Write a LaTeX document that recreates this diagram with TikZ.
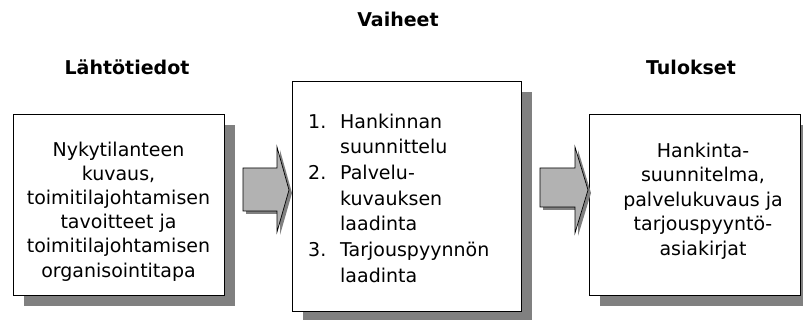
\documentclass[tikz,border=0pt]{standalone}
\usepackage{fontspec}
\setmainfont{DejaVu Sans}
\usetikzlibrary{shadows}
\definecolor{shadowgray}{HTML}{808080}
\definecolor{arrowgray}{HTML}{B2B2B2}
\begin{document}
\begin{tikzpicture}[x=1pt,y=-1pt,
  box/.style={draw=black, line width=0.8pt, fill=white, rectangle, inner sep=0pt,
    general shadow={fill=shadowgray, shadow xshift=11pt, shadow yshift=-11pt}},
  title/.style={font=\bfseries\fontsize{19}{23}\selectfont, anchor=base, inner sep=0pt},
  body/.style={inner sep=0pt, anchor=north},
  blockarrow/.style={draw=black, line width=0.7pt, fill=arrowgray, line join=miter,
    general shadow={fill=shadowgray, shadow xshift=3pt, shadow yshift=-3pt}}
]
\useasboundingbox (0,0) rectangle (803,320);

% headings
\node[title] (hsteps) at (398,27) {Vaiheet};
\node[title] (hin) at (127,75) {Lähtötiedot};
\node[title] (hout) at (691,75) {Tulokset};

% boxes with drop shadows
\node[box, minimum width=211pt, minimum height=181pt] (inbox) at (118.5,204.5) {};
\node[box, minimum width=229pt, minimum height=230pt] (stepbox) at (406.5,196) {};
\node[box, minimum width=211pt, minimum height=181pt] (outbox) at (694.5,204.5) {};

% block arrows between the boxes
\draw[blockarrow] (243,168) -- (277,168) -- (277,147) -- (289,190) -- (277,232)
  -- (277,211) -- (243,211) -- cycle;
\draw[blockarrow] (540,168) -- (575,168) -- (575,147) -- (588,190) -- (575,233)
  -- (575,207) -- (540,207) -- cycle;

% box contents
\node[body] (intext) at (118.5,139) {\fontsize{19}{24.2}\selectfont
  \begin{tabular}{@{}c@{}}Nykytilanteen\\kuvaus,\\toimitilajohtamisen\\tavoitteet ja\\toimitilajohtamisen\\organisointitapa\end{tabular}};
\node[body, anchor=north west] (steptext) at (308,110) {\fontsize{19}{25.7}\selectfont
  \begin{tabular}{@{}p{32pt}@{}l@{}}1.&Hankinnan\\&suunnittelu\\2.&Palvelu-\\&kuvauksen\\&laadinta\\3.&Tarjouspyynnön\\&laadinta\end{tabular}};
\node[body] (outtext) at (703,139.85) {\fontsize{19}{24.5}\selectfont
  \begin{tabular}{@{}c@{}}Hankinta-\\suunnitelma,\\palvelukuvaus ja\\tarjouspyyntö-\\asiakirjat\end{tabular}};
\end{tikzpicture}
\end{document}
